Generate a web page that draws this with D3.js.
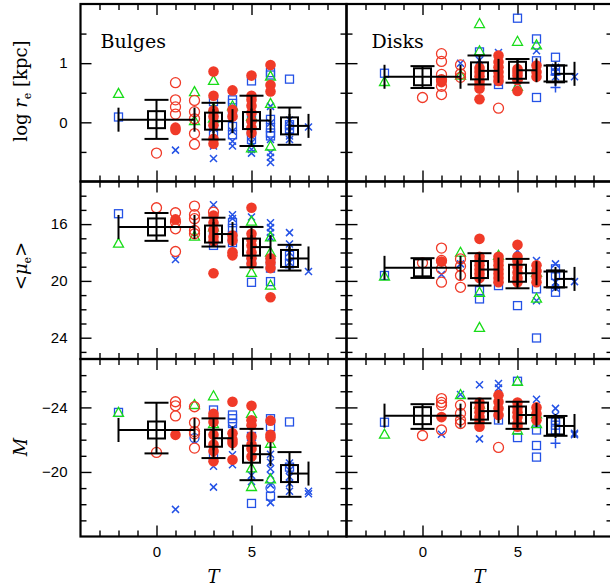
<!DOCTYPE html>
<html><head><meta charset="utf-8">
<script src="https://cdn.jsdelivr.net/npm/d3@7"></script>
<style>
body{margin:0;background:#fff}
svg text{font-family:"Liberation Sans",Arial,sans-serif}
.ttl{font-family:"DejaVu Serif",serif}
</style></head><body>
<script>
// symbol codes: oc open red circle, fc filled red circle, tr green triangle,
// sq blue square, x blue cross, p blue plus, bo blue open circle
var bulgeRe = [
 [-2,0.09,"sq"],[-2,0.49,"tr"],[0,-0.52,"oc"],
 [1,0.67,"oc"],[1,0.38,"oc"],[1,0.26,"oc"],[1,0.14,"oc"],[1,-0.09,"fc"],[1,-0.13,"fc"],[1,-0.47,"x"],
 [2,0.52,"tr"],[2,0.03,"tr"],[2,0.37,"oc"],[2,0.18,"oc"],[2,0.06,"oc"],[2,-0.19,"oc"],[2,-0.37,"oc"],
 [3,0.35,"sq"],[3,0.13,"sq"],[3,-0.02,"sq"],[3,-0.18,"sq"],[3,-0.4,"x"],[3,-0.61,"x"],[3,-0.1,"x"],[3,0.0,"x"],
 [3,0.71,"tr"],[3,0.24,"tr"],[3,0.07,"tr"],[3,0.86,"fc"],[3,0.45,"fc"],[3,0.2,"fc"],[3,0.1,"fc"],[3,-0.05,"fc"],[3,-0.28,"fc"],[3,-0.36,"fc"],
 [4,0.38,"sq"],[4,0.32,"sq"],[4,0.13,"sq"],[4,-0.07,"sq"],[4,-0.21,"sq"],[4,-0.32,"x"],[4,-0.4,"x"],[4,-0.15,"x"],
 [4,0.28,"tr"],[4,0.54,"fc"],[4,0.21,"fc"],[4,0.1,"fc"],
 [5,0.7,"sq"],[5,0.07,"sq"],[5,-0.15,"sq"],[5,-0.29,"sq"],[5,-0.52,"x"],[5,-0.46,"x"],[5,-0.34,"x"],[5,-0.23,"x"],
 [5,-0.43,"tr"],[5,0.1,"tr"],[5,0.79,"fc"],[5,0.45,"fc"],[5,0.38,"fc"],[5,0.28,"fc"],[5,0.16,"fc"],[5,0.02,"fc"],[5,-0.09,"fc"],[5,-0.18,"fc"],
 [6,0.84,"sq"],[6,0.8,"sq"],[6,-0.09,"sq"],[6,-0.18,"sq"],[6,-0.23,"sq"],[6,0.05,"sq"],
 [6,0.27,"x"],[6,-0.01,"x"],[6,-0.29,"x"],[6,-0.51,"x"],[6,-0.59,"x"],[6,-0.68,"x"],
 [6,0.78,"tr"],[6,0.32,"tr"],[6,-0.4,"tr"],[6,0.97,"fc"],[6,0.63,"fc"],[6,0.52,"fc"],
 [7,0.73,"sq"],[7,-0.04,"sq"],[7,-0.12,"sq"],[7,0.04,"x"],[7,-0.07,"x"],[7,-0.15,"x"],[7,-0.23,"x"],[7,-0.29,"x"],
 [8,-0.08,"x"]
];
var diskRe = [
 [-2,0.83,"sq"],[-2,0.69,"tr"],[0,0.42,"oc"],
 [1,1.16,"oc"],[1,1.03,"oc"],[1,0.81,"oc"],[1,0.72,"oc"],[1,0.61,"oc"],[1,0.47,"oc"],[1,0.71,"fc"],[1,0.68,"fc"],
 [2,1.0,"x"],[2,0.8,"tr"],[2,0.97,"oc"],[2,0.76,"oc"],[2,0.82,"oc"],
 [3,1.19,"sq"],[3,1.05,"x"],[3,0.66,"x"],[3,1.67,"tr"],[3,1.21,"tr"],
 [3,0.92,"fc"],[3,0.85,"fc"],[3,0.78,"fc"],[3,0.7,"fc"],[3,0.63,"fc"],[3,0.57,"fc"],[3,0.39,"fc"],
 [4,0.64,"sq"],[4,1.18,"x"],[4,0.68,"x"],[4,1.13,"fc"],[4,1.02,"fc"],[4,0.93,"fc"],[4,0.85,"fc"],[4,0.77,"fc"],[4,0.7,"fc"],[4,0.24,"oc"],
 [5,1.76,"sq"],[5,0.78,"sq"],[5,0.66,"x"],[5,1.37,"tr"],[5,0.61,"tr"],
 [5,0.9,"fc"],[5,0.85,"fc"],[5,0.79,"fc"],[5,0.71,"fc"],[5,0.53,"fc"],
 [6,1.41,"sq"],[6,1.04,"sq"],[6,0.42,"sq"],[6,1.21,"x"],[6,1.31,"tr"],[6,0.96,"fc"],[6,0.85,"fc"],[6,0.77,"fc"],
 [7,1.1,"sq"],[7,0.88,"sq"],[7,0.93,"x"],[7,0.85,"x"],[7,0.77,"x"],[7,0.59,"p"],[7,0.8,"p"],
 [8,0.77,"x"]
];
var bulgeMu = [
 [-2,15.27,"sq"],[-2,17.34,"tr"],[0,14.85,"oc"],
 [1,15.2,"oc"],[1,15.86,"oc"],[1,16.33,"oc"],[1,17.93,"oc"],[1,15.67,"fc"],[1,18.49,"x"],
 [2,16.85,"tr"],[2,14.73,"oc"],[2,15.34,"oc"],[2,15.62,"oc"],[2,16.45,"oc"],[2,16.68,"oc"],
 [3,17.5,"sq"],[3,16.6,"sq"],[3,14.64,"x"],[3,16.0,"x"],[3,16.2,"tr"],[3,15.15,"oc"],
 [3,15.4,"fc"],[3,15.9,"fc"],[3,16.4,"fc"],[3,16.9,"fc"],[3,17.2,"fc"],[3,19.46,"fc"],
 [4,15.9,"sq"],[4,16.3,"sq"],[4,16.8,"sq"],[4,17.3,"sq"],[4,15.34,"x"],[4,15.6,"x"],
 [4,16.8,"fc"],[4,17.15,"fc"],[4,17.98,"fc"],[4,18.2,"fc"],
 [5,20.1,"sq"],[5,18.6,"sq"],[5,15.5,"x"],[5,18.0,"x"],[5,15.79,"tr"],[5,19.4,"tr"],
 [5,14.85,"fc"],[5,16.68,"fc"],[5,17.1,"fc"],[5,17.5,"fc"],[5,18.0,"fc"],[5,18.4,"fc"],[5,18.8,"fc"],
 [6,18.6,"sq"],[6,19.1,"sq"],[6,20.05,"sq"],[6,15.9,"x"],[6,16.25,"x"],[6,16.6,"x"],[6,16.95,"x"],
 [6,16.9,"tr"],[6,17.98,"tr"],[6,20.3,"tr"],[6,18.4,"fc"],[6,18.7,"fc"],[6,19.1,"fc"],[6,21.15,"fc"],
 [7,18.2,"sq"],[7,18.8,"sq"],[7,16.6,"x"],[7,17.4,"x"],[7,18.0,"x"],[7,18.7,"x"],
 [8,19.34,"x"]
];
var diskMu = [
 [-2,19.62,"sq"],[-2,19.67,"tr"],[0,18.73,"oc"],
 [1,17.69,"oc"],[1,18.56,"oc"],[1,19.15,"oc"],[1,20.09,"oc"],[1,18.64,"fc"],[1,19.55,"x"],
 [2,18.8,"x"],[2,17.98,"tr"],[2,18.45,"oc"],[2,18.96,"oc"],[2,19.62,"oc"],[2,20.45,"oc"],
 [3,20.68,"sq"],[3,21.27,"sq"],[3,18.8,"x"],[3,20.8,"tr"],[3,23.27,"tr"],
 [3,17.04,"fc"],[3,18.3,"fc"],[3,18.6,"fc"],[3,18.9,"fc"],[3,19.2,"fc"],[3,19.5,"fc"],[3,19.8,"fc"],
 [4,20.33,"sq"],[4,20.1,"x"],[4,18.2,"tr"],
 [4,18.3,"fc"],[4,18.6,"fc"],[4,18.9,"fc"],[4,19.2,"fc"],[4,19.5,"fc"],[4,19.8,"fc"],[4,20.1,"fc"],
 [5,21.74,"sq"],[5,17.86,"x"],[5,20.05,"x"],
 [5,17.46,"fc"],[5,18.3,"fc"],[5,18.6,"fc"],[5,19.0,"fc"],[5,19.4,"fc"],[5,19.8,"fc"],[5,20.1,"fc"],
 [6,20.56,"sq"],[6,24.02,"sq"],[6,18.56,"x"],[6,21.4,"x"],[6,19.39,"tr"],[6,21.22,"tr"],
 [6,18.9,"fc"],[6,19.3,"fc"],[6,19.7,"fc"],[6,20.1,"fc"],
 [7,19.15,"sq"],[7,19.62,"sq"],[7,20.8,"sq"],[7,18.8,"x"],[7,20.1,"x"],[7,20.5,"x"],
 [8,20.05,"x"]
];
var bulgeM = [
 [-2,-23.69,"sq"],[-2,-23.69,"tr"],[0,-21.21,"oc"],
 [1,-24.35,"oc"],[1,-24.1,"oc"],[1,-23.47,"oc"],[1,-22.3,"fc"],[1,-17.68,"x"],
 [2,-22.1,"bo"],[2,-24.18,"tr"],[2,-24.04,"oc"],[2,-23.06,"oc"],[2,-22.5,"oc"],[2,-22.36,"oc"],[2,-21.48,"oc"],
 [3,-23.84,"sq"],[3,-21.0,"sq"],[3,-20.35,"x"],[3,-19.06,"x"],[3,-24.72,"tr"],[3,-23.0,"tr"],
 [3,-23.6,"fc"],[3,-23.4,"fc"],[3,-23.1,"fc"],[3,-22.3,"fc"],[3,-21.7,"fc"],[3,-21.3,"fc"],[3,-20.66,"fc"],
 [4,-23.53,"sq"],[4,-23.3,"sq"],[4,-23.0,"sq"],[4,-22.7,"x"],[4,-21.07,"x"],[4,-20.45,"x"],
 [4,-24.35,"fc"],[4,-22.4,"fc"],[4,-22.0,"fc"],[4,-21.8,"fc"],[4,-20.76,"fc"],
 [5,-22.2,"sq"],[5,-18.05,"sq"],[5,-19.8,"x"],[5,-19.4,"x"],[5,-23.63,"tr"],[5,-20.25,"tr"],[5,-19.1,"tr"],
 [5,-24.1,"fc"],[5,-23.2,"fc"],[5,-22.9,"fc"],[5,-22.2,"fc"],[5,-21.7,"fc"],[5,-21.44,"fc"],[5,-20.96,"fc"],
 [6,-23.3,"sq"],[6,-22.8,"sq"],[6,-18.5,"sq"],[6,-19.0,"bo"],
 [6,-21.1,"x"],[6,-20.6,"x"],[6,-20.2,"x"],[6,-19.8,"x"],[6,-19.2,"x"],[6,-18.1,"x"],
 [6,-21.78,"tr"],[6,-19.57,"tr"],[6,-23.18,"fc"],[6,-22.3,"fc"],[6,-22.13,"fc"],
 [7,-23.1,"sq"],[7,-20.3,"sq"],[7,-20.55,"x"],[7,-20.1,"x"],[7,-19.7,"x"],[7,-19.3,"x"],[7,-18.8,"x"],
 [8,-18.8,"x"],[8,-18.65,"x"]
];
var diskM = [
 [-2,-23.08,"sq"],[-2,-22.34,"tr"],[0,-22.26,"oc"],
 [1,-24.55,"oc"],[1,-24.31,"oc"],[1,-24.14,"oc"],[1,-22.6,"oc"],[1,-23.4,"fc"],[1,-22.34,"x"],
 [2,-24.8,"x"],[2,-24.8,"tr"],[2,-24.14,"oc"],[2,-23.63,"oc"],[2,-23.22,"oc"],[2,-23.0,"oc"],
 [3,-25.4,"x"],[3,-22.05,"x"],[3,-24.2,"tr"],
 [3,-24.3,"fc"],[3,-24.0,"fc"],[3,-23.7,"fc"],[3,-23.4,"fc"],[3,-23.1,"fc"],[3,-22.8,"fc"],
 [4,-23.22,"sq"],[4,-25.48,"x"],[4,-25.2,"x"],[4,-24.76,"fc"],[4,-24.35,"fc"],[4,-23.94,"fc"],[4,-23.53,"fc"],[4,-21.52,"oc"],
 [5,-25.62,"sq"],[5,-22.13,"sq"],[5,-25.62,"tr"],[5,-22.6,"tr"],
 [5,-24.3,"fc"],[5,-24.0,"fc"],[5,-23.7,"fc"],[5,-23.4,"fc"],[5,-23.0,"fc"],[5,-22.8,"fc"],
 [6,-22.6,"sq"],[6,-21.64,"sq"],[6,-20.92,"sq"],[6,-24.51,"x"],[6,-23.6,"tr"],[6,-23.0,"tr"],
 [6,-24.0,"fc"],[6,-23.6,"fc"],[6,-23.2,"fc"],
 [7,-23.2,"sq"],[7,-22.9,"sq"],[7,-22.6,"sq"],[7,-23.94,"x"],[7,-23.5,"x"],[7,-21.78,"p"],
 [8,-22.4,"x"],[8,-22.3,"x"]
];
// bin means: [T, value, low, high, Tmin, Tmax]
var bulgeReMean = [[0,0.045,-0.28,0.38,-2,2],[3,0.02,-0.29,0.33,3,4],[5,0.03,-0.40,0.45,5,6],[7,-0.06,-0.38,0.25,7,8]];
var diskReMean  = [[0,0.77,0.58,0.95,-2,2],[3,0.87,0.64,1.13,3,4],[5,0.88,0.67,1.07,5,6],[7,0.82,0.69,0.96,7,8]];
var bulgeMuMean = [[0,16.2,15.22,17.18,-2,2],[3,16.7,15.55,17.58,3,4],[5,17.62,16.2,19.04,5,6],[7,18.42,17.46,19.27,7,8]];
var diskMuMean  = [[0,19.08,18.4,19.79,-2,2],[3,19.2,18.05,20.33,3,4],[5,19.46,18.45,20.52,5,6],[7,19.86,19.34,20.45,7,8]];
var bulgeMMean  = [[0,-22.6,-24.29,-21.15,-2,2],[3,-22.09,-23.32,-20.86,3,4],[5,-21.1,-22.67,-19.49,5,6],[7,-19.9,-21.23,-18.46,7,8]];
var diskMMean   = [[0,-23.49,-24.2,-22.67,-2,2],[3,-23.77,-24.55,-23.02,3,4],[5,-23.53,-24.35,-22.67,5,6],[7,-22.85,-23.47,-22.24,7,8]];

var xMajor = [0,5], xMinor = [-3,-2,-1,1,2,3,4,6,7,8,9];
var rowDomains = [[-1,2],[13,25.5],[-27,-16]];
var rowMajor = [[0,1],[16,20,24],[-24,-20]];
var rowMinor = [[-0.5,0.5,1.5],[14,15,17,18,19,21,22,23,25],[-26,-25,-23,-22,-21,-19,-18,-17]];
var colNames = ["Bulges","Disks"];

var margin = {left:80.5, top:4}, pw = 266, ph = 177.5;
var RED = "#f03a28", GREEN = "#18dc18", BLUE = "#2452e6";

var svg = d3.select("body").append("svg").attr("width",610).attr("height",587);

var x = d3.scaleLinear().domain([-4,10]).range([0,pw]);
var yScales = [
  d3.scaleLinear().domain(rowDomains[0]).range([ph,0]),
  d3.scaleLinear().domain(rowDomains[1]).range([0,ph]),
  d3.scaleLinear().domain(rowDomains[2]).range([0,ph])
];

var panels = [[bulgeRe,diskRe],[bulgeMu,diskMu],[bulgeM,diskM]];
var means = [[bulgeReMean,diskReMean],[bulgeMuMean,diskMuMean],[bulgeMMean,diskMMean]];

function drawSym(g, kind, cx, cy){
  if (kind=="oc") g.append("circle").attr("cx",cx).attr("cy",cy).attr("r",5).attr("fill","none").attr("stroke",RED).attr("stroke-width",1.3);
  else if (kind=="fc") g.append("circle").attr("cx",cx).attr("cy",cy).attr("r",5.3).attr("fill",RED);
  else if (kind=="bo") g.append("circle").attr("cx",cx).attr("cy",cy).attr("r",4.5).attr("fill","none").attr("stroke",BLUE).attr("stroke-width",1.3);
  else if (kind=="tr") g.append("path").attr("d","M"+cx+","+(cy-5)+"L"+(cx+5)+","+(cy+4)+"L"+(cx-5)+","+(cy+4)+"Z").attr("fill","none").attr("stroke",GREEN).attr("stroke-width",1.3);
  else if (kind=="sq") g.append("rect").attr("x",cx-4).attr("y",cy-4).attr("width",8).attr("height",8).attr("fill","none").attr("stroke",BLUE).attr("stroke-width",1.3);
  else if (kind=="x") g.append("path").attr("d","M"+(cx-3.5)+","+(cy-3.5)+"L"+(cx+3.5)+","+(cy+3.5)+"M"+(cx-3.5)+","+(cy+3.5)+"L"+(cx+3.5)+","+(cy-3.5)).attr("stroke",BLUE).attr("stroke-width",1.5);
  else if (kind=="p") g.append("path").attr("d","M"+(cx-5)+","+cy+"L"+(cx+5)+","+cy+"M"+cx+","+(cy-5)+"L"+cx+","+(cy+5)).attr("stroke",BLUE).attr("stroke-width",1.5);
}
var order = {sq:0,x:1,p:2,bo:3,tr:4,oc:5,fc:6};

function ticks(g, axis, vals, size){
  var a = g.append("g").call(axis.tickValues(vals).tickSize(size).tickFormat(""));
  a.select(".domain").remove();
  a.selectAll("line").attr("stroke","#000").attr("stroke-width",1.4);
  return a;
}

for (var r = 0; r < 3; r++){
  var y = yScales[r];
  for (var c = 0; c < 2; c++){
    var g = svg.append("g").attr("transform","translate("+(margin.left+c*pw)+","+(margin.top+r*ph)+")");
    // ticks on all four sides, pointing inwards
    [[d3.axisBottom(x),"translate(0,"+ph+")"],[d3.axisTop(x),"translate(0,0)"]].forEach(function(a){
      var gg = g.append("g").attr("transform",a[1]);
      ticks(gg, a[0], xMajor, -11);
      ticks(gg, a[0], xMinor, -6);
    });
    [[d3.axisLeft(y),"translate(0,0)"],[d3.axisRight(y),"translate("+pw+",0)"]].forEach(function(a){
      var gg = g.append("g").attr("transform",a[1]);
      ticks(gg, a[0], rowMajor[r], -11);
      ticks(gg, a[0], rowMinor[r], -6);
    });
    // points
    var pts = panels[r][c].slice().sort(function(a,b){ return order[a[2]]-order[b[2]]; });
    var pg = g.append("g");
    pts.forEach(function(d){ drawSym(pg, d[2], x(d[0]), y(d[1])); });
    // bin means with error bars
    var mg = g.append("g").attr("stroke","#000").attr("stroke-width",2).attr("fill","none");
    means[r][c].forEach(function(d){
      var cx = x(d[0]), cy = y(d[1]);
      mg.append("line").attr("x1",x(d[4])).attr("x2",x(d[5])).attr("y1",cy).attr("y2",cy);
      mg.append("line").attr("x1",x(d[4])).attr("x2",x(d[4])).attr("y1",cy-12).attr("y2",cy+12);
      mg.append("line").attr("x1",x(d[5])).attr("x2",x(d[5])).attr("y1",cy-12).attr("y2",cy+12);
      mg.append("line").attr("x1",cx).attr("x2",cx).attr("y1",y(d[2])).attr("y2",y(d[3]));
      mg.append("line").attr("x1",cx-12).attr("x2",cx+12).attr("y1",y(d[2])).attr("y2",y(d[2]));
      mg.append("line").attr("x1",cx-12).attr("x2",cx+12).attr("y1",y(d[3])).attr("y2",y(d[3]));
      mg.append("rect").attr("x",cx-8.5).attr("y",cy-8.5).attr("width",17).attr("height",17);
    });
    g.append("rect").attr("width",pw).attr("height",ph).attr("fill","none").attr("stroke","#000").attr("stroke-width",2.2);
    if (c == 0){
      var la = g.append("g").call(d3.axisLeft(y).tickValues(rowMajor[r]).tickFormat(d3.format("d")).tickSize(0).tickPadding(13));
      la.select(".domain").remove();
      la.selectAll("text").style("font-size","15px").attr("fill","#000").style("font-family","'Liberation Sans',Arial,sans-serif");
    }
    if (r == 2){
      var ba = g.append("g").attr("transform","translate(0,"+ph+")").call(d3.axisBottom(x).tickValues(xMajor).tickFormat(d3.format("d")).tickSize(0).tickPadding(10));
      ba.select(".domain").remove();
      ba.selectAll("text").style("font-size","15px").attr("fill","#000").style("font-family","'Liberation Sans',Arial,sans-serif");
      g.append("text").attr("class","ttl").attr("x",pw/2).attr("y",ph+46).attr("text-anchor","middle")
        .style("font-size","18px").style("font-style","italic").text("T");
    }
    if (r == 0){
      g.append("text").attr("class","ttl").attr("x",c==0?20:25).attr("y",44).style("font-size","19px").text(colNames[c]);
    }
  }
}

// y axis titles
var t1 = svg.append("text").attr("class","ttl").attr("transform","translate(27,91) rotate(-90)").attr("text-anchor","middle").style("font-size","18px");
t1.append("tspan").text("log ");
t1.append("tspan").style("font-style","italic").text("r");
t1.append("tspan").attr("dy",4).style("font-size","11px").text("e");
t1.append("tspan").attr("dy",-4).text("  [kpc]");
var t2 = svg.append("text").attr("class","ttl").attr("transform","translate(27,266) rotate(-90)").attr("text-anchor","middle").style("font-size","18px");
t2.append("tspan").text("<");
t2.append("tspan").style("font-style","italic").text("\u03bc");
t2.append("tspan").attr("dy",4).style("font-size","11px").text("e");
t2.append("tspan").attr("dy",-4).text(">");
svg.append("text").attr("class","ttl").attr("transform","translate(27,447) rotate(-90)").attr("text-anchor","middle")
  .style("font-size","18px").style("font-style","italic").text("M");
</script></body></html>
